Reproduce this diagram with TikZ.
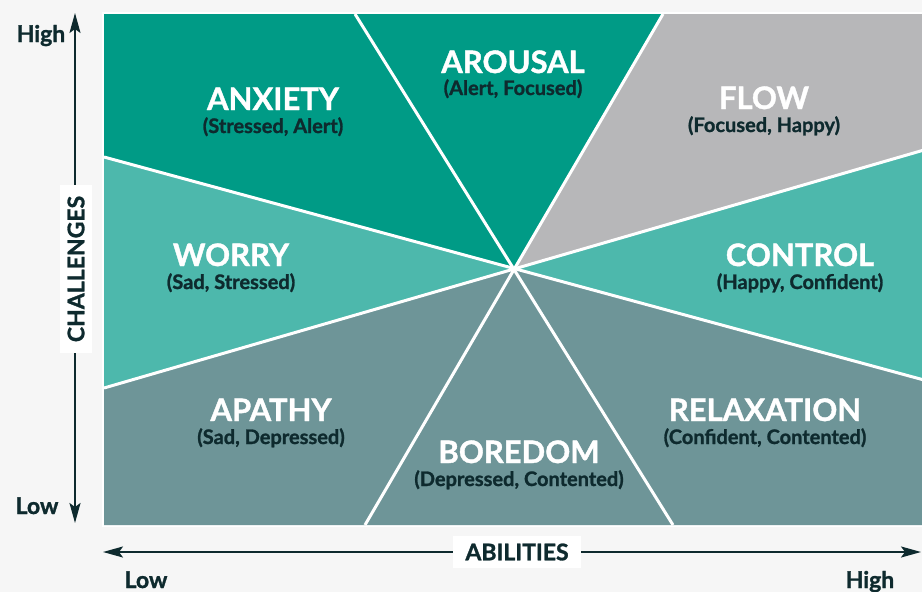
\documentclass[tikz,border=0pt]{standalone}
\usepackage{fontspec}
\setmainfont{Lato}[BoldFeatures={FakeBold=1.2}]
\usetikzlibrary{arrows.meta}

\definecolor{bgc}{HTML}{F6F6F6}
\definecolor{ink}{HTML}{0E2A2E}
\definecolor{deep}{HTML}{009B86}
\definecolor{mint}{HTML}{4DB8AC}
\definecolor{slate}{HTML}{6E9598}
\definecolor{ash}{HTML}{B7B7B9}

\begin{document}
\begin{tikzpicture}[x=1pt,y=-1pt,
  big/.style={text=white,anchor=base,font=\bfseries\fontsize{31}{31}\selectfont},
  small/.style={text=ink,anchor=base,font=\bfseries\fontsize{20}{20}\selectfont},
  axis/.style={text=ink,anchor=base,font=\bfseries\fontsize{23}{23}\selectfont},
  tag/.style={fill=white,text=ink,inner sep=0pt,minimum height=32pt,font=\bfseries\fontsize{23}{23}\selectfont},
  sep/.style={white,line width=3pt},
  >={Stealth[length=20pt,width=11pt,inset=4pt]}]
\useasboundingbox (0,0) rectangle (922,592);
\fill[bgc] (0,0) rectangle (922,592);
\clip (0,0) rectangle (922,592);

\coordinate (C) at (515,268);
\coordinate (T1) at (355,14);  \coordinate (T2) at (663,14);
\coordinate (L1) at (104,157); \coordinate (L2) at (104,388);
\coordinate (R1) at (924,150); \coordinate (R2) at (924,380);
\coordinate (B1) at (365,525); \coordinate (B2) at (673,525);
\coordinate (NW) at (104,14);  \coordinate (NE) at (924,14);
\coordinate (SW) at (104,525); \coordinate (SE) at (924,525);

% frame and the eight sectors
\fill[white] (102,12) rectangle (930,527);
\fill[deep]  (C) -- (L1) -- (NW) -- (T1) -- cycle;
\fill[deep]  (C) -- (T1) -- (T2) -- cycle;
\fill[ash]   (C) -- (T2) -- (NE) -- (R1) -- cycle;
\fill[mint]  (C) -- (R1) -- (R2) -- cycle;
\fill[slate] (C) -- (R2) -- (SE) -- (B2) -- cycle;
\fill[slate] (C) -- (B2) -- (B1) -- cycle;
\fill[slate] (C) -- (B1) -- (SW) -- (L2) -- cycle;
\fill[mint]  (C) -- (L2) -- (L1) -- cycle;
\draw[sep] (T1) -- (B2);
\draw[sep] (T2) -- (B1);
\draw[sep] (L1) -- (R2);
\draw[sep] (L2) -- (R1);

\node (anx)  [big]   at (273,110) {ANXIETY};
\node (anxs) [small] at (273,133) {(Stressed, Alert)};
\node (aro)  [big]   at (513,73)  {AROUSAL};
\node (aros) [small] at (513,95)  {(Alert, Focused)};
\node (flo)  [big]   at (764,109) {FLOW};
\node (flos) [small] at (764,132) {(Focused, Happy)};
\node (wor)  [big]   at (231,266) {WORRY};
\node (wors) [small] at (231,289) {(Sad, Stressed)};
\node (con)  [big]   at (800,266) {CONTROL};
\node (cons) [small] at (800,289) {(Happy, Confident)};
\node (apa)  [big]   at (271,421) {APATHY};
\node (apas) [small] at (271,444) {(Sad, Depressed)};
\node (bor)  [big]   at (519,463) {BOREDOM};
\node (bors) [small] at (519,486) {(Depressed, Contented)};
\node (rel)  [big]   at (765,421) {RELAXATION};
\node (rels) [small] at (765,444) {(Confident, Contented)};

% axes
\coordinate (AY) at (75,523); \coordinate (BY) at (75,13);
\coordinate (AX) at (103,552); \coordinate (BX) at (921,552);
\draw[ink, line width=2pt, <->] (AY) -- (BY);
\draw[ink, line width=2pt, <->] (AX) -- (BX);
\node (chal) [tag, rotate=90, minimum width=168pt] at (76,269) {CHALLENGES};
\node (abil) [tag, minimum width=128pt] at (517,552) {ABILITIES};

\node (yhi) [axis] at (41,42)   {High};
\node (ylo) [axis] at (37,514)  {Low};
\node (xlo) [axis] at (146,588) {Low};
\node (xhi) [axis] at (870,588) {High};
\end{tikzpicture}
\end{document}
